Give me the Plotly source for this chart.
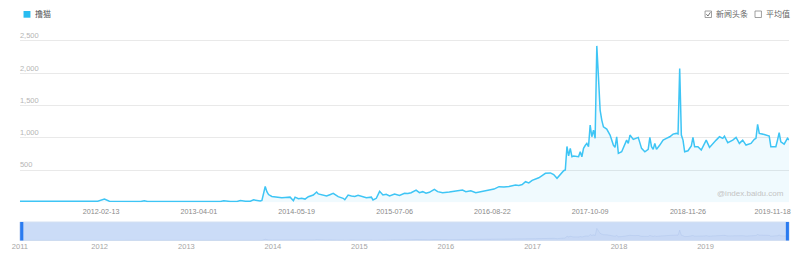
import plotly.graph_objects as go

# ---------------- data ----------------
series_name = "撸猫"
dates = [
    "2011-03-07", "2011-09-26", "2012-01-30", "2012-02-27", "2012-03-19", "2012-07-30", "2012-08-13", "2012-08-27",
    "2013-02-04", "2013-07-01", "2013-07-15", "2013-08-12", "2013-09-09", "2013-09-23", "2013-10-14", "2013-11-04",
    "2013-11-18", "2013-12-16", "2013-12-23", "2014-01-06", "2014-01-13", "2014-01-20", "2014-02-03", "2014-02-17",
    "2014-03-03", "2014-03-17", "2014-03-31", "2014-04-21", "2014-05-05", "2014-05-12", "2014-05-26", "2014-06-09",
    "2014-06-23", "2014-07-07", "2014-07-28", "2014-08-11", "2014-08-18", "2014-09-01", "2014-09-22", "2014-10-06",
    "2014-10-20", "2014-11-10", "2014-12-01", "2014-12-08", "2014-12-22", "2015-01-05", "2015-01-19", "2015-02-02",
    "2015-02-16", "2015-03-09", "2015-03-30", "2015-04-06", "2015-04-20", "2015-05-04", "2015-05-18", "2015-06-01",
    "2015-06-15", "2015-07-06", "2015-07-27", "2015-08-17", "2015-08-31", "2015-09-14", "2015-10-05", "2015-10-19",
    "2015-11-02", "2015-11-16", "2015-11-30", "2015-12-21", "2016-01-04", "2016-01-25", "2016-02-22", "2016-03-14",
    "2016-04-04", "2016-04-18", "2016-05-02", "2016-05-23", "2016-06-13", "2016-07-04", "2016-07-25", "2016-08-08",
    "2016-08-29", "2016-09-19", "2016-10-10", "2016-10-31", "2016-11-14", "2016-11-28", "2016-12-12", "2016-12-26",
    "2017-01-09", "2017-01-23", "2017-02-06", "2017-02-20", "2017-03-06", "2017-03-20", "2017-04-03",
    "2017-04-24", "2017-05-08", "2017-05-22", "2017-06-05", "2017-06-19", "2017-06-26", "2017-07-03", "2017-07-10",
    "2017-07-17", "2017-07-24", "2017-07-31", "2017-08-21", "2017-08-28", "2017-09-04", "2017-09-11", "2017-09-18",
    "2017-09-25", "2017-10-02", "2017-10-09", "2017-10-16", "2017-10-23", "2017-10-30", "2017-11-06", "2017-11-13",
    "2017-11-20", "2017-11-27", "2017-12-04", "2017-12-18", "2018-01-01", "2018-01-15", "2018-01-22", "2018-01-29",
    "2018-02-05", "2018-02-19", "2018-03-05", "2018-03-12", "2018-03-19", "2018-03-26", "2018-04-09", "2018-04-30",
    "2018-05-14", "2018-05-28", "2018-06-11", "2018-06-18", "2018-06-25", "2018-07-02", "2018-07-09", "2018-07-16",
    "2018-07-30", "2018-08-13", "2018-08-27", "2018-09-10", "2018-09-24", "2018-10-08", "2018-10-15", "2018-10-22",
    "2018-10-29", "2018-11-05", "2018-11-12", "2018-11-26", "2018-12-10", "2018-12-17", "2018-12-24", "2019-01-07",
    "2019-01-21", "2019-02-04", "2019-02-11", "2019-02-25", "2019-03-11", "2019-03-25", "2019-04-08", "2019-04-22",
    "2019-04-29", "2019-05-13", "2019-06-03", "2019-06-17", "2019-07-01", "2019-07-15", "2019-07-29", "2019-08-19",
    "2019-09-02", "2019-09-09", "2019-09-16", "2019-09-23", "2019-10-14", "2019-11-04", "2019-11-11", "2019-12-02",
    "2019-12-09", "2019-12-16", "2019-12-23", "2020-01-06", "2020-01-20", "2020-01-27",
]
values = [
    15, 15, 17, 50, 17, 14, 25, 14,
    13, 14, 25, 13, 14, 28, 16, 18,
    38, 22, 30, 245, 165, 120, 90, 82,
    85, 72, 75, 80, 25, 80, 55, 62,
    50, 87, 113, 160, 130, 120, 97, 118,
    139, 87, 62, 40, 113, 98, 90, 110,
    95, 70, 80, 36, 62, 170, 113, 125,
    100, 128, 105, 139, 135, 149, 190, 150,
    165, 140, 155, 200, 165, 150, 160, 170,
    175, 190, 165, 178, 149, 165, 172, 190,
    205, 242, 236, 245, 258, 268, 262, 275,
    319, 300, 340, 362, 380, 415, 449,
    455, 430, 371, 430, 489, 500, 865, 720,
    836, 706, 716, 706, 783, 706, 836, 880,
    913, 861, 1197, 1016, 1119, 991, 2424, 1944,
    1429, 1274, 1170, 1135, 1042, 887, 851, 1016,
    758, 783, 887, 964, 913, 1042, 975, 1006,
    836, 783, 820, 1006, 861, 820, 913, 820,
    887, 964, 991, 1016, 1057, 1068, 1060, 2074,
    1042, 964, 783, 799, 872, 1006, 861, 861,
    810, 913, 964, 851, 913, 964, 1016, 991,
    1026, 923, 964, 1006, 913, 964, 887, 913,
    975, 991, 1207, 1068, 1052, 1026, 861, 861,
    964, 1078, 938, 902, 991, 964,
]
x_tick_dates = ["2012-02-13", "2013-04-01", "2014-05-19", "2015-07-06",
                "2016-08-22", "2017-10-09", "2018-11-26", "2019-11-18"]
y_tick_vals = [0, 500, 1000, 1500, 2000, 2500]
y_tick_text = ["", "500", "1,000", "1,500", "2,000", "2,500"]
year_ticks = ["2011-01-29", "2012-01-01", "2013-01-01", "2014-01-01", "2015-01-01",
              "2016-01-01", "2017-01-01", "2018-01-01", "2019-01-01"]
year_labels = ["2011", "2012", "2013", "2014", "2015", "2016", "2017", "2018", "2019"]
toggle_labels = ["新闻头条", "平均值"]
watermark = "@index.baidu.com"

# ---------------- layout helpers ----------------
W, H = 800, 262
def px(x):
    return x / W
def py(y):
    return 1 - y / H

FONT = "Liberation Sans, Arial, Noto Sans CJK SC, sans-serif"
LINE = "rgb(62,197,245)"

Y_TOP = 2700
y_zero_px, y_2500_px = 202.3, 41.0
y_top_px = y_zero_px - (y_zero_px - y_2500_px) * Y_TOP / 2500

fig = go.Figure()
fig.add_trace(go.Scatter(
    x=dates, y=values, mode="lines", name=series_name,
    line=dict(color=LINE, width=1.5), fill="tozeroy",
    fillcolor="rgba(62,197,245,0.08)", showlegend=False, hoverinfo="skip",
))
fig.add_trace(go.Scatter(
    x=dates, y=values, mode="lines", xaxis="x", yaxis="y3",
    line=dict(color="rgba(90,130,200,0.12)", width=0.8), fill="tozeroy",
    fillcolor="rgba(90,130,200,0.04)", showlegend=False, hoverinfo="skip",
))
fig.add_trace(go.Scatter(
    x=[year_ticks[1]], y=[0], mode="markers", xaxis="x2", yaxis="y3",
    marker=dict(opacity=0), showlegend=False, hoverinfo="skip",
))

shapes = []
shapes.append(dict(type="rect", xref="paper", yref="paper",
                   x0=px(15.7), x1=px(22.7), y0=py(17.7), y1=py(11),
                   fillcolor="rgb(40,188,240)", line=dict(width=0)))
shapes.append(dict(type="rect", xref="paper", yref="paper",
                   x0=px(705), x1=px(711.5), y0=py(17.5), y1=py(11),
                   fillcolor="white", line=dict(color="#888", width=0.8)))
shapes.append(dict(type="path", xref="paper", yref="paper",
                   path=f"M {px(706.3)} {py(14.2)} L {px(707.9)} {py(16)} L {px(710.4)} {py(12.3)}",
                   line=dict(color="#666", width=0.9)))
shapes.append(dict(type="rect", xref="paper", yref="paper",
                   x0=px(755.5), x1=px(762), y0=py(17.5), y1=py(11),
                   fillcolor="white", line=dict(color="#888", width=0.8)))
shapes.append(dict(type="rect", xref="paper", yref="paper", layer="below",
                   x0=px(12), x1=px(790), y0=py(240.5), y1=py(222),
                   fillcolor="#cbdcf7", line=dict(color="#d4e0f2", width=1)))
shapes.append(dict(type="rect", xref="paper", yref="paper", layer="above",
                   x0=px(12.3), x1=px(15.5), y0=py(240.5), y1=py(222),
                   fillcolor="#2a7bf0", line=dict(width=0)))
shapes.append(dict(type="rect", xref="paper", yref="paper", layer="above",
                   x0=px(786.7), x1=px(789.8), y0=py(240.5), y1=py(222),
                   fillcolor="#2a7bf0", line=dict(width=0)))

annotations = [
    dict(text=series_name, xref="paper", yref="paper", x=px(25.5), y=py(14.3),
         xanchor="left", yanchor="middle", showarrow=False,
         font=dict(family=FONT, size=8, color="#555")),
    dict(text=toggle_labels[0], xref="paper", yref="paper", x=px(714.5), y=py(14.3),
         xanchor="left", yanchor="middle", showarrow=False,
         font=dict(family=FONT, size=8, color="#666")),
    dict(text=toggle_labels[1], xref="paper", yref="paper", x=px(765), y=py(14.3),
         xanchor="left", yanchor="middle", showarrow=False,
         font=dict(family=FONT, size=8, color="#666")),
    dict(text=watermark, xref="paper", yref="paper", x=px(787), y=py(193.5),
         xanchor="right", yanchor="middle", showarrow=False,
         font=dict(family=FONT, size=8, color="#c4c4c4")),
]

fig.update_layout(
    width=W, height=H, margin=dict(l=0, r=0, t=0, b=0),
    paper_bgcolor="white", plot_bgcolor="rgba(0,0,0,0)",
    font=dict(family=FONT),
    shapes=shapes, annotations=annotations,
    xaxis=dict(domain=[px(12), px(790)], type="date",
               range=["2011-03-07", "2020-01-27"], anchor="y",
               tickvals=x_tick_dates, ticktext=x_tick_dates,
               ticklabelstandoff=3,
               showgrid=False, zeroline=False, showline=False, ticks="",
               tickfont=dict(size=7.2, color="#8a8a8a")),
    yaxis=dict(domain=[py(y_zero_px), py(y_top_px)], range=[0, Y_TOP],
               anchor="free", position=px(8),
               tickvals=y_tick_vals, ticktext=y_tick_text,
               ticklabelposition="inside top",
               showgrid=True, gridcolor="#e9e9e9",
               gridwidth=1, zeroline=False, showline=False, ticks="",
               tickfont=dict(size=7.5, color="#b5b5b5")),
    yaxis3=dict(domain=[py(240.5), py(222)], range=[0, 3700], anchor="x",
                visible=False, fixedrange=True),
    xaxis2=dict(domain=[px(12), px(790)], type="date", anchor="y3",
                range=["2011-01-29", "2019-12-20"],
                tickvals=year_ticks, ticktext=year_labels,
                showgrid=False, zeroline=False, showline=False, ticks="",
                tickfont=dict(size=7.5, color="#a5a5a5")),
)

fig.write_html("out.html")
